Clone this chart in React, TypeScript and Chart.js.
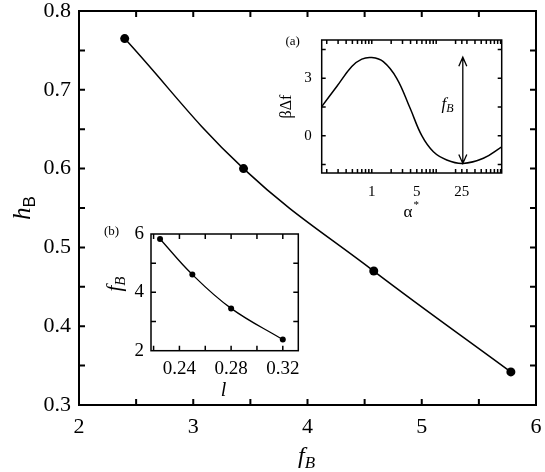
import { useEffect, useRef } from 'react';
import { Chart, registerables } from 'chart.js';

Chart.register(...registerables);

// ---------- Main panel: h_B vs f_B ----------
const mainFB = [2.4, 3.44, 4.58, 5.78];
const mainHB = [0.765, 0.6, 0.47, 0.342];
const mainXTicks = [2, 2.5, 3, 3.5, 4, 4.5, 5, 5.5, 6];
const mainXLabels = [2, 3, 4, 5, 6];
const mainYTicks = [0.3, 0.35, 0.4, 0.45, 0.5, 0.55, 0.6, 0.65, 0.7, 0.75, 0.8];
const mainYLabels = [0.3, 0.4, 0.5, 0.6, 0.7, 0.8];

// ---------- Inset (a): beta*Delta f vs alpha* (log axis) ----------
const alphaStar = [0.167, 0.286, 0.489, 0.7, 1, 1.51, 2.44, 3.94, 5.98, 9.05, 14.6, 25.9, 54, 104];
const betaDeltaF = [1.52, 2.57, 3.61, 4.0, 4.08, 3.87, 3.0, 1.43, 0, -0.84, -1.27, -1.45, -1.18, -0.58];
const insetAXTicks = [0.2, 0.3, 0.4, 0.5, 0.6, 0.7, 0.8, 0.9, 1, 2, 3, 4, 5, 6, 7, 8, 9, 10, 20, 25, 30, 40, 50, 60, 70, 80, 90, 100];
const insetAXLabels = [1, 5, 25];
const insetAYTicks = [-1.5, 0, 1.5, 3, 4.5];
const insetAYLabels = [0, 3];
const arrowAlpha = 25.9;
const arrowTop = 4.1;
const arrowBottom = -1.45;
const arrowLabelAlpha = 15;
const arrowLabelValue = 1.4;

// ---------- Inset (b): f_B vs l ----------
const lValues = [0.225, 0.25, 0.28, 0.32];
const fBValues = [5.83, 4.61, 3.45, 2.38];
const insetBXTicks = [0.22, 0.24, 0.26, 0.28, 0.3, 0.32];
const insetBXLabels = [0.24, 0.28, 0.32];
const insetBYTicks = [2, 3, 4, 5, 6];
const insetBYLabels = [2, 4, 6];

const SERIF = "'Liberation Serif', 'DejaVu Serif', serif";
const SANS = "'Liberation Sans', 'DejaVu Sans', sans-serif";

Chart.defaults.font.family = SERIF;
Chart.defaults.color = '#000';

function near(list: number[], v: number) {
  return list.some((l) => Math.abs(l - v) < 1e-9);
}

function axis(cfg: any) {
  return {
    type: cfg.type || 'linear',
    min: cfg.min,
    max: cfg.max,
    afterBuildTicks: (s: any) => {
      s.ticks = cfg.ticks.map((v: number) => ({ value: v }));
    },
    afterFit: (s: any) => {
      if (cfg.width != null) s.width = cfg.width;
      if (cfg.height != null) s.height = cfg.height;
      s.paddingLeft = 0;
      s.paddingRight = 0;
      s.paddingTop = 0;
      s.paddingBottom = 0;
    },
    grid: { display: false, drawTicks: false },
    border: { display: false },
    ticks: {
      autoSkip: false,
      maxRotation: 0,
      minRotation: 0,
      padding: cfg.pad,
      color: '#000',
      font: { family: SERIF, size: cfg.size, style: 'normal', weight: 'normal' },
      callback: (v: any) => (near(cfg.labels, Number(v)) ? cfg.fmt(Number(v)) : ''),
    },
  };
}

function frameTicks(lw: number, len: number) {
  return {
    id: 'frameTicks',
    afterDraw(chart: any) {
      const { ctx, chartArea: a, scales } = chart;
      ctx.save();
      ctx.strokeStyle = '#000';
      ctx.lineWidth = lw;
      ctx.lineCap = 'square';
      ctx.strokeRect(a.left, a.top, a.right - a.left, a.bottom - a.top);
      ctx.lineCap = 'butt';
      ctx.beginPath();
      for (const t of scales.x.ticks) {
        const p = scales.x.getPixelForValue(t.value);
        if (p < a.left + 1 || p > a.right - 1) continue;
        ctx.moveTo(p, a.bottom);
        ctx.lineTo(p, a.bottom - len);
        ctx.moveTo(p, a.top);
        ctx.lineTo(p, a.top + len);
      }
      for (const t of scales.y.ticks) {
        const p = scales.y.getPixelForValue(t.value);
        if (p < a.top + 1 || p > a.bottom - 1) continue;
        ctx.moveTo(a.left, p);
        ctx.lineTo(a.left + len, p);
        ctx.moveTo(a.right, p);
        ctx.lineTo(a.right - len, p);
      }
      ctx.stroke();
      ctx.restore();
    },
  };
}

function drawSub(
  ctx: CanvasRenderingContext2D,
  main: string,
  mainFont: string,
  sub: string,
  subFont: string,
  cx: number,
  y: number,
  dy: number
) {
  ctx.font = mainFont;
  const w1 = ctx.measureText(main).width;
  ctx.font = subFont;
  const w2 = ctx.measureText(sub).width;
  const x0 = cx - (w1 + w2) / 2;
  ctx.textAlign = 'left';
  ctx.textBaseline = 'alphabetic';
  ctx.fillStyle = '#000';
  ctx.font = mainFont;
  ctx.fillText(main, x0, y);
  ctx.font = subFont;
  ctx.fillText(sub, x0 + w1, y + dy);
}

const baseOptions = {
  responsive: false,
  animation: false as const,
  events: [] as any[],
  plugins: { legend: { display: false }, tooltip: { enabled: false } },
};

function lineDataset(xs: number[], ys: number[], width: number, radius: number) {
  return {
    data: xs.map((x, i) => ({ x, y: ys[i] })),
    showLine: true,
    borderColor: '#000',
    borderWidth: width,
    pointRadius: radius,
    pointBackgroundColor: '#000',
    pointBorderWidth: 0,
    tension: 0.4,
    cubicInterpolationMode: 'default',
  } as any;
}

export default function App() {
  const mainRef = useRef<HTMLCanvasElement>(null);
  const aRef = useRef<HTMLCanvasElement>(null);
  const bRef = useRef<HTMLCanvasElement>(null);

  useEffect(() => {
    const mainTitles = {
      id: 'mainTitles',
      afterDraw(chart: any) {
        const ctx = chart.ctx;
        const a = chart.chartArea;
        ctx.save();
        drawSub(ctx, 'f', `italic 24px ${SERIF}`, 'B', `italic 17px ${SERIF}`, (a.left + a.right) / 2 - 1, 463, 5);
        ctx.translate(30, (a.top + a.bottom) / 2);
        ctx.rotate(-Math.PI / 2);
        drawSub(ctx, 'h', `italic 25px ${SERIF}`, 'B', `17px ${SANS}`, 0, 0, 5);
        ctx.restore();
      },
    };

    const mainChart = new Chart(mainRef.current!, {
      type: 'scatter',
      data: { datasets: [lineDataset(mainFB, mainHB, 1.5, 4.5)] },
      options: {
        ...baseOptions,
        layout: { padding: { left: 0, top: 11, right: 9, bottom: 0 } },
        scales: {
          x: axis({ min: 2, max: 6, ticks: mainXTicks, labels: mainXLabels, fmt: (v: number) => String(v), size: 22, pad: 9, height: 67 }),
          y: axis({ min: 0.3, max: 0.8, ticks: mainYTicks, labels: mainYLabels, fmt: (v: number) => v.toFixed(1), size: 22, pad: 8, width: 79 }),
        } as any,
      },
      plugins: [frameTicks(2, 6), mainTitles],
    });

    const insetATitles = {
      id: 'insetATitles',
      afterDraw(chart: any) {
        const ctx = chart.ctx;
        const a = chart.chartArea;
        const xs = chart.scales.x;
        const ys = chart.scales.y;
        ctx.save();
        ctx.fillStyle = '#000';
        ctx.textAlign = 'center';
        ctx.textBaseline = 'middle';
        ctx.font = `13px ${SERIF}`;
        ctx.fillText('(a)', a.left - 29, a.top + 2);
        ctx.save();
        ctx.translate(a.left - 31, (a.top + a.bottom) / 2);
        ctx.rotate(-Math.PI / 2);
        ctx.textBaseline = 'alphabetic';
        ctx.font = `16px ${SERIF}`;
        ctx.fillText('βΔf', 0, 0);
        ctx.restore();
        ctx.font = `17px ${SERIF}`;
        const wA = ctx.measureText('α').width;
        ctx.font = `11px ${SERIF}`;
        const wS = ctx.measureText('*').width;
        const cx = (a.left + a.right) / 2 - 1;
        const x0 = cx - (wA + wS) / 2;
        ctx.textAlign = 'left';
        ctx.textBaseline = 'alphabetic';
        ctx.font = `17px ${SERIF}`;
        ctx.fillText('α', x0, a.bottom + 44);
        ctx.font = `11px ${SERIF}`;
        ctx.fillText('*', x0 + wA + 1, a.bottom + 35);
        const px = xs.getPixelForValue(arrowAlpha);
        const pt = ys.getPixelForValue(arrowTop);
        const pb = ys.getPixelForValue(arrowBottom);
        ctx.strokeStyle = '#000';
        ctx.lineWidth = 1.3;
        ctx.beginPath();
        ctx.moveTo(px, pt);
        ctx.lineTo(px, pb);
        ctx.moveTo(px - 4, pt + 9);
        ctx.lineTo(px, pt);
        ctx.lineTo(px + 4, pt + 9);
        ctx.moveTo(px - 4, pb - 9);
        ctx.lineTo(px, pb);
        ctx.lineTo(px + 4, pb - 9);
        ctx.stroke();
        drawSub(ctx, 'f', `italic 17px ${SERIF}`, 'B', `italic 12px ${SERIF}`,
          xs.getPixelForValue(arrowLabelAlpha), ys.getPixelForValue(arrowLabelValue), 3);
        ctx.restore();
      },
    };

    const insetA = new Chart(aRef.current!, {
      type: 'scatter',
      data: { datasets: [lineDataset(alphaStar, betaDeltaF, 1.5, 0)] },
      options: {
        ...baseOptions,
        layout: { padding: { left: 0, top: 15, right: 38.3, bottom: 0 } },
        scales: {
          x: axis({ type: 'logarithmic', min: 0.167, max: 104, ticks: insetAXTicks, labels: insetAXLabels, fmt: (v: number) => String(v), size: 15, pad: 10, height: 62 }),
          y: axis({ min: -1.95, max: 5, ticks: insetAYTicks, labels: insetAYLabels, fmt: (v: number) => String(v), size: 15, pad: 10, width: 51.7 }),
        } as any,
      },
      plugins: [frameTicks(1.5, 4), insetATitles],
    });

    const insetBTitles = {
      id: 'insetBTitles',
      afterDraw(chart: any) {
        const ctx = chart.ctx;
        const a = chart.chartArea;
        ctx.save();
        ctx.fillStyle = '#000';
        ctx.textAlign = 'center';
        ctx.textBaseline = 'middle';
        ctx.font = `13px ${SERIF}`;
        ctx.fillText('(b)', a.left - 39.5, a.top - 2.5);
        ctx.font = `italic 20px ${SERIF}`;
        ctx.textBaseline = 'alphabetic';
        ctx.fillText('l', (a.left + a.right) / 2 - 1, a.bottom + 45);
        ctx.translate(a.left - 30, 64);
        ctx.rotate(-Math.PI / 2);
        drawSub(ctx, 'f', `italic 21px ${SERIF}`, 'B', `italic 15px ${SERIF}`, 0, 0, 4);
        ctx.restore();
      },
    };

    const insetB = new Chart(bRef.current!, {
      type: 'scatter',
      data: { datasets: [lineDataset(lValues, fBValues, 1.3, 3)] },
      options: {
        ...baseOptions,
        layout: { padding: { left: 0, top: 14, right: 41.7, bottom: 0 } },
        scales: {
          x: axis({ min: 0.218, max: 0.332, ticks: insetBXTicks, labels: insetBXLabels, fmt: (v: number) => v.toFixed(2), size: 19, pad: 7, height: 79.3 }),
          y: axis({ min: 2, max: 6, ticks: insetBYTicks, labels: insetBYLabels, fmt: (v: number) => String(v), size: 19, pad: 7, width: 61 }),
        } as any,
      },
      plugins: [frameTicks(1.5, 5), insetBTitles],
    });

    return () => {
      mainChart.destroy();
      insetA.destroy();
      insetB.destroy();
    };
  }, []);

  return (
    <div style={{ position: 'fixed', left: 0, top: 0, width: 545, height: 472, background: '#fff' }}>
      <canvas ref={mainRef} width={545} height={472} style={{ position: 'absolute', left: 0, top: 0, width: 545, height: 472 }} />
      <canvas ref={aRef} width={270} height={210} style={{ position: 'absolute', left: 270, top: 25, width: 270, height: 210 }} />
      <canvas ref={bRef} width={250} height={210} style={{ position: 'absolute', left: 90, top: 220, width: 250, height: 210 }} />
    </div>
  );
}
